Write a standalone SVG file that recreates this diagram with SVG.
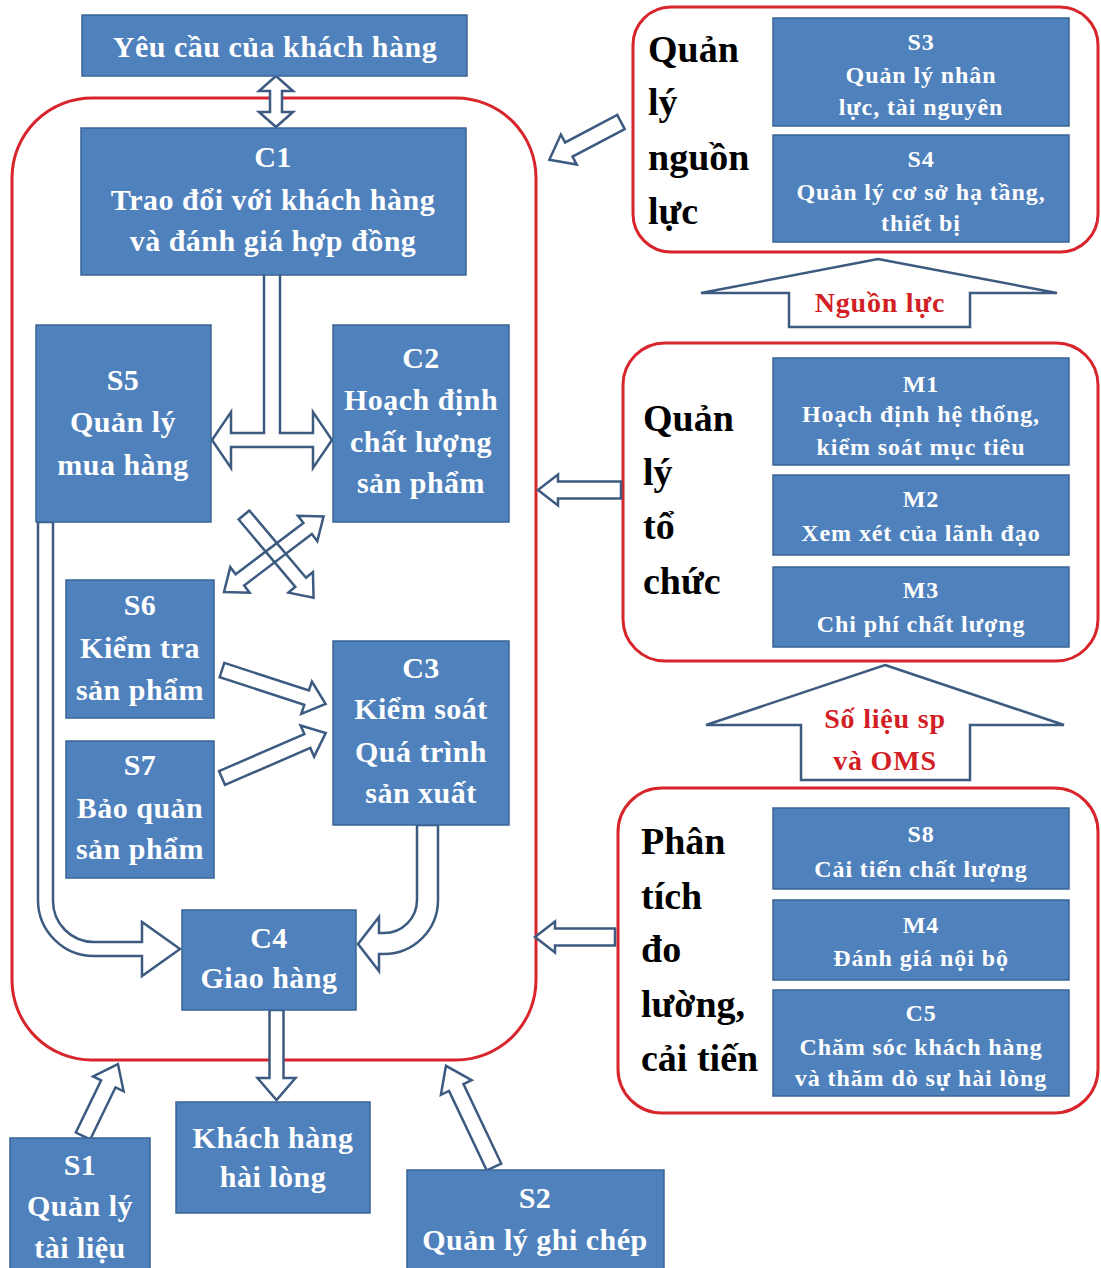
<svg xmlns="http://www.w3.org/2000/svg" width="1101" height="1268" viewBox="0 0 1101 1268">
  <style>
    .frame { fill: #ffffff; stroke: #d8252c; stroke-width: 3; }
    .blue { fill: #4f81bd; stroke: #3a6494; stroke-width: 1.5; }
    .arw { fill: #ffffff; stroke: #3d5a80; stroke-width: 2.5; stroke-linejoin: miter; }
    .arwo { fill: none; stroke: #3d5a80; stroke-width: 2.5; }
    .t { font-family: "Liberation Serif", "Times New Roman", serif; font-weight: bold; fill: #ffffff; font-size: 30px; text-anchor: middle; letter-spacing: 0.5px; }
    .ts { font-size: 24px; letter-spacing: 0.9px; }
    .lbl { font-family: "Liberation Serif", "Times New Roman", serif; font-weight: bold; fill: #000000; font-size: 38px; }
    .red { font-family: "Liberation Serif", "Times New Roman", serif; font-weight: bold; fill: #d21f26; font-size: 28px; text-anchor: middle; letter-spacing: 0.8px; }
  </style>

  <rect width="1101" height="1268" fill="#ffffff"/>

  <!-- group frames -->
  <g id="frames">
    <rect id="main-frame" class="frame" x="12" y="98" width="524" height="962" rx="80" ry="80"/>
    <rect id="frame-resources" class="frame" x="633" y="7" width="465" height="245" rx="38" ry="38"/>
    <rect id="frame-organisation" class="frame" x="623" y="343" width="475" height="318" rx="42" ry="42"/>
    <rect id="frame-analysis" class="frame" x="618" y="788" width="480" height="325" rx="44" ry="44"/>
  </g>

  <!-- block arrows -->
  <g id="connectors">
    <polygon class="arw" transform="translate(276,76) rotate(90)" points="0,0 15,-17 15,-6 36,-6 36,-17 51,0 36,17 36,6 15,6 15,17"/>
    <polygon class="arw" transform="translate(621,122) rotate(152.2)" points="0,-8 59,-8 59,-17 81,0 59,17 59,8 0,8"/>
    <polygon class="arw" transform="translate(621,490) rotate(180)" points="0,-8.5 63,-8.5 63,-15.5 83,0 63,15.5 63,8.5 0,8.5"/>
    <polygon class="arw" transform="translate(615,937) rotate(180)" points="0,-8.5 60,-8.5 60,-15.5 80,0 60,15.5 60,8.5 0,8.5"/>
    <!-- C1 splitting to S5 and C2 -->
    <path class="arw" d="M 264 274 L 264 433 L 231 433 L 231 412 L 212 440 L 231 468 L 231 447 L 313 447 L 313 468 L 332 440 L 313 412 L 313 433 L 280 433 L 280 274 Z"/>
    <!-- crossing arrows -->
    <polygon class="arwo" transform="translate(244,515) rotate(49.9)" points="0,-7 88,-7 88,-16 108,0 88,16 88,7 0,7"/>
    <polygon class="arwo" transform="translate(224,592) rotate(-37.2)" points="0,0 20,-16 20,-7 105,-7 105,-16 125,0 105,16 105,7 20,7 20,16"/>
    <!-- S6, S7 to C3 -->
    <polygon class="arw" transform="translate(222,670) rotate(18.1)" points="0,-7.5 89,-7.5 89,-17 109,0 89,17 89,7.5 0,7.5"/>
    <polygon class="arw" transform="translate(222,778) rotate(-23.4)" points="0,-7.5 93,-7.5 93,-17 113,0 93,17 93,7.5 0,7.5"/>
    <!-- S5 to C4 -->
    <path class="arw" d="M 38 522 L 38 900 A 56 56 0 0 0 94 956 L 142 956 L 142 976 L 180 949 L 142 922 L 142 942 L 94 942 A 41 41 0 0 1 53 901 L 53 522 Z"/>
    <!-- C3 to C4 -->
    <path class="arw" d="M 417 825 L 417 900 A 33 33 0 0 1 384 933 L 379 933 L 379 917 L 358 944 L 379 971 L 379 954 L 384 954 A 54 54 0 0 0 438 900 L 438 825 Z"/>
    <!-- C4 to satisfied customer -->
    <polygon class="arw" transform="translate(276.5,1010) rotate(90)" points="0,-7 68,-7 68,-19 90,0 68,19 68,7 0,7"/>
    <!-- S1, S2 into the main frame -->
    <polygon class="arw" transform="translate(83,1136) rotate(-64.1)" points="0,-8 58,-8 58,-17 80,0 58,17 58,8 0,8"/>
    <polygon class="arw" transform="translate(494,1167) rotate(-115.4)" points="0,-8 88,-8 88,-17 112,0 88,17 88,8 0,8"/>
    <!-- wide upward arrows -->
    <polygon class="arw" points="878,259 1057,293 970,293 970,327 789,327 789,293 701,293"/>
    <polygon class="arw" points="885,665 1064,725 970,725 970,780 801,780 801,725 706,725"/>
  </g>

  <g id="label-nguon-luc"><text class="red" x="880" y="312">Nguồn lực</text></g>
  <g id="label-so-lieu">
    <text class="red" x="885" y="728">Số liệu sp</text>
    <text class="red" x="885" y="770">và OMS</text>
  </g>

  <!-- main flow -->
  <g id="yeu-cau">
    <rect class="blue" x="82" y="15" width="385" height="61"/>
    <text class="t" x="275" y="57">Yêu cầu của khách hàng</text>
  </g>
  <g id="c1">
    <rect class="blue" x="81" y="128" width="385" height="147"/>
    <text class="t" x="273" y="167">C1</text>
    <text class="t" x="273" y="210">Trao đổi với khách hàng</text>
    <text class="t" x="273" y="251">và đánh giá hợp đồng</text>
  </g>
  <g id="s5">
    <rect class="blue" x="36" y="325" width="175" height="197"/>
    <text class="t" x="123" y="390">S5</text>
    <text class="t" x="123" y="432">Quản lý</text>
    <text class="t" x="123" y="475">mua hàng</text>
  </g>
  <g id="c2">
    <rect class="blue" x="333" y="325" width="176" height="197"/>
    <text class="t" x="421" y="368">C2</text>
    <text class="t" x="421" y="410">Hoạch định</text>
    <text class="t" x="421" y="452">chất lượng</text>
    <text class="t" x="421" y="493">sản phẩm</text>
  </g>
  <g id="s6">
    <rect class="blue" x="66" y="580" width="148" height="138"/>
    <text class="t" x="140" y="615">S6</text>
    <text class="t" x="140" y="658">Kiểm tra</text>
    <text class="t" x="140" y="700">sản phẩm</text>
  </g>
  <g id="s7">
    <rect class="blue" x="66" y="741" width="148" height="137"/>
    <text class="t" x="140" y="775">S7</text>
    <text class="t" x="140" y="818">Bảo quản</text>
    <text class="t" x="140" y="859">sản phẩm</text>
  </g>
  <g id="c3">
    <rect class="blue" x="333" y="641" width="176" height="184"/>
    <text class="t" x="421" y="678">C3</text>
    <text class="t" x="421" y="719">Kiểm soát</text>
    <text class="t" x="421" y="762">Quá trình</text>
    <text class="t" x="421" y="803">sản xuất</text>
  </g>
  <g id="c4">
    <rect class="blue" x="182" y="910" width="174" height="100"/>
    <text class="t" x="269" y="948">C4</text>
    <text class="t" x="269" y="988">Giao hàng</text>
  </g>
  <g id="khach-hang-hai-long">
    <rect class="blue" x="176" y="1102" width="194" height="111"/>
    <text class="t" x="273" y="1148">Khách hàng</text>
    <text class="t" x="273" y="1187">hài lòng</text>
  </g>
  <g id="s1">
    <rect class="blue" x="10" y="1138" width="140" height="135"/>
    <text class="t" x="80" y="1175">S1</text>
    <text class="t" x="80" y="1216">Quản lý</text>
    <text class="t" x="80" y="1258">tài liệu</text>
  </g>
  <g id="s2">
    <rect class="blue" x="407" y="1170" width="257" height="103"/>
    <text class="t" x="535" y="1208">S2</text>
    <text class="t" x="535" y="1250">Quản lý ghi chép</text>
  </g>

  <!-- resource management -->
  <g id="quan-ly-nguon-luc">
    <text class="lbl" x="648" y="62">Quản</text>
    <text class="lbl" x="648" y="115">lý</text>
    <text class="lbl" x="648" y="170">nguồn</text>
    <text class="lbl" x="648" y="224">lực</text>
  </g>
  <g id="s3">
    <rect class="blue" x="773" y="18" width="296" height="108"/>
    <text class="t ts" x="921" y="50">S3</text>
    <text class="t ts" x="921" y="83">Quản lý nhân</text>
    <text class="t ts" x="921" y="115">lực, tài nguyên</text>
  </g>
  <g id="s4">
    <rect class="blue" x="773" y="135" width="296" height="107"/>
    <text class="t ts" x="921" y="167">S4</text>
    <text class="t ts" x="921" y="200">Quản lý cơ sở hạ tầng,</text>
    <text class="t ts" x="921" y="231">thiết bị</text>
  </g>

  <!-- organisation management -->
  <g id="quan-ly-to-chuc">
    <text class="lbl" x="643" y="431">Quản</text>
    <text class="lbl" x="643" y="485">lý</text>
    <text class="lbl" x="643" y="539">tổ</text>
    <text class="lbl" x="643" y="594">chức</text>
  </g>
  <g id="m1">
    <rect class="blue" x="773" y="358" width="296" height="107"/>
    <text class="t ts" x="921" y="392">M1</text>
    <text class="t ts" x="921" y="422">Hoạch định hệ thống,</text>
    <text class="t ts" x="921" y="455">kiểm soát mục tiêu</text>
  </g>
  <g id="m2">
    <rect class="blue" x="773" y="475" width="296" height="80"/>
    <text class="t ts" x="921" y="507">M2</text>
    <text class="t ts" x="921" y="541">Xem xét của lãnh đạo</text>
  </g>
  <g id="m3">
    <rect class="blue" x="773" y="567" width="296" height="80"/>
    <text class="t ts" x="921" y="598">M3</text>
    <text class="t ts" x="921" y="632">Chi phí chất lượng</text>
  </g>

  <!-- analysis, measurement, improvement -->
  <g id="phan-tich">
    <text class="lbl" x="641" y="854">Phân</text>
    <text class="lbl" x="641" y="909">tích</text>
    <text class="lbl" x="641" y="962">đo</text>
    <text class="lbl" x="641" y="1017">lường,</text>
    <text class="lbl" x="641" y="1071">cải tiến</text>
  </g>
  <g id="s8">
    <rect class="blue" x="773" y="808" width="296" height="81"/>
    <text class="t ts" x="921" y="842">S8</text>
    <text class="t ts" x="921" y="877">Cải tiến chất lượng</text>
  </g>
  <g id="m4">
    <rect class="blue" x="773" y="900" width="296" height="80"/>
    <text class="t ts" x="921" y="933">M4</text>
    <text class="t ts" x="921" y="966">Đánh giá nội bộ</text>
  </g>
  <g id="c5">
    <rect class="blue" x="773" y="990" width="296" height="106"/>
    <text class="t ts" x="921" y="1021">C5</text>
    <text class="t ts" x="921" y="1055">Chăm sóc khách hàng</text>
    <text class="t ts" x="921" y="1086">và thăm dò sự hài lòng</text>
  </g>
</svg>
